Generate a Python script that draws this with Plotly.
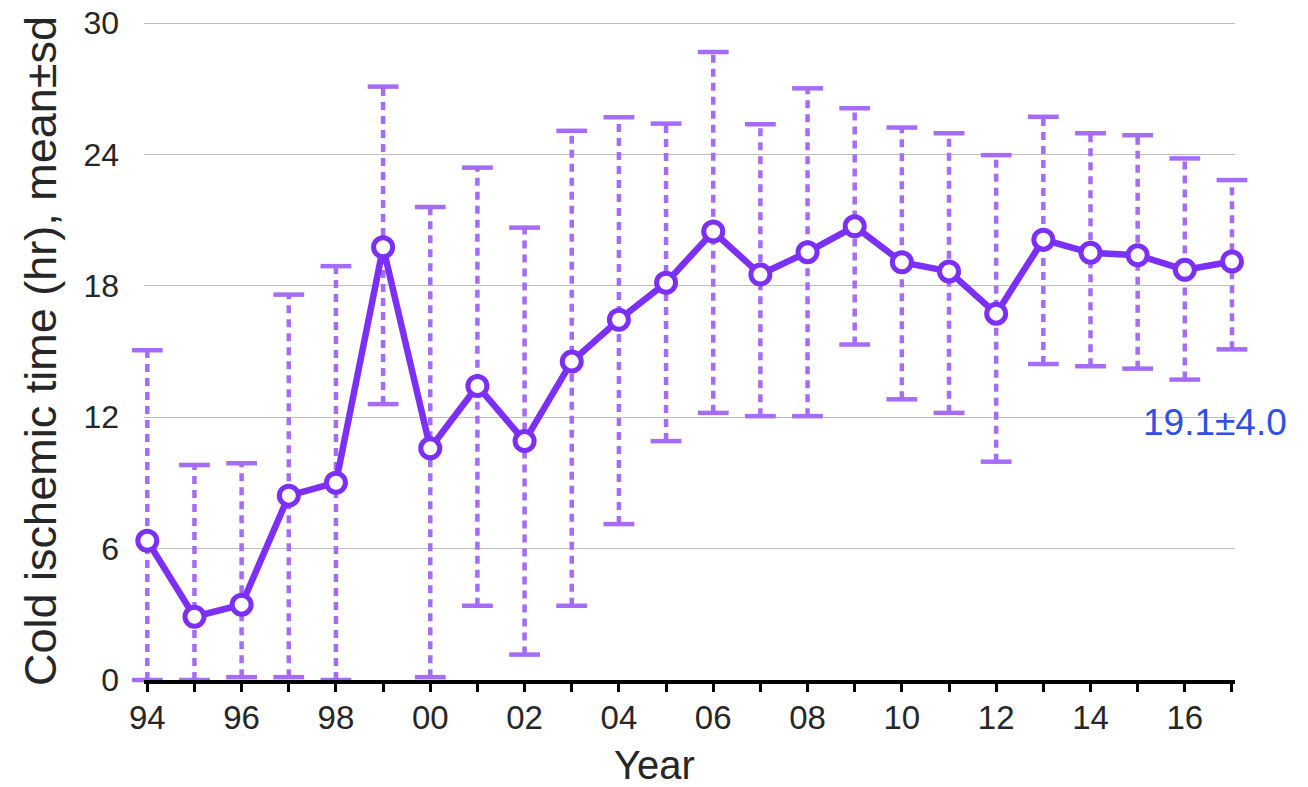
import plotly.graph_objects as go

years = list(range(1994, 2018))
tick_labels = ["94", "", "96", "", "98", "", "00", "", "02", "", "04", "", "06", "", "08", "", "10", "", "12", "", "14", "", "16", ""]
mean = [6.36, 2.89, 3.44, 8.42, 9.01, 19.76, 10.58, 13.43, 10.91, 14.54, 16.45, 18.14,
        20.48, 18.52, 19.54, 20.72, 19.08, 18.66, 16.73, 20.11, 19.51, 19.40, 18.73, 19.11]
upper = [15.06, 9.82, 9.90, 17.60, 18.90, 27.10, 21.60, 23.40, 20.66, 25.08, 25.70, 25.41,
         28.68, 25.38, 27.02, 26.11, 25.23, 24.97, 23.97, 25.72, 24.97, 24.88, 23.82, 22.83]
lower = [0.0, 0.0, 0.13, 0.13, 0.0, 12.60, 0.13, 3.39, 1.16, 3.39, 7.12, 10.91,
         12.20, 12.05, 12.05, 15.32, 12.82, 12.20, 9.97, 14.43, 14.33, 14.22, 13.72, 15.10]
overall_label = "19.1±4.0"

LINE_C = "#7b2ff7"
ERR_C = "#a56cf7"
TXT_C = "#262626"
FONT = "Liberation Sans, Arial, Helvetica"

# dashed error bar stems
ex, ey = [], []
for x, lo, hi in zip(years, lower, upper):
    ex += [x, x, None]
    ey += [lo, hi, None]

fig = go.Figure()
fig.add_trace(go.Scatter(x=ex, y=ey, mode="lines",
                         line=dict(color=ERR_C, width=4.5, dash="8px,6px"),
                         hoverinfo="skip", cliponaxis=False, showlegend=False))
# caps
fig.add_trace(go.Scatter(x=years + years, y=upper + lower, mode="markers",
                         marker=dict(symbol="line-ew", size=22,
                                     line=dict(color=ERR_C, width=4.5)),
                         hoverinfo="skip", cliponaxis=False, showlegend=False))
# mean line
fig.add_trace(go.Scatter(x=years, y=mean, mode="lines+markers",
                         line=dict(color=LINE_C, width=6.5),
                         marker=dict(symbol="circle", size=19, color="white",
                                     line=dict(color=LINE_C, width=5)),
                         cliponaxis=False, showlegend=False))

fig.add_annotation(x=1.0, xref="paper", y=11.75, yref="y", text=overall_label,
                   showarrow=False, xanchor="center", xshift=-20,
                   font=dict(family=FONT, size=37, color="#2f4fe6"))
fig.add_annotation(x=0.468, xref="paper", y=0, yref="paper", yshift=-85,
                   text="Year", showarrow=False, xanchor="center", yanchor="middle",
                   font=dict(family=FONT, size=40, color=TXT_C))

fig.update_layout(
    width=1308, height=787,
    margin=dict(l=144, r=73, t=22, b=107),
    paper_bgcolor="white", plot_bgcolor="white",
    font=dict(family=FONT, color=TXT_C),
    xaxis=dict(
        range=[1993.93, 2017.064], automargin=False,
        tickmode="array", tickvals=years, ticktext=tick_labels,
        ticks="outside", ticklen=8, tickwidth=3, tickcolor="black",
        showline=True, linecolor="black", linewidth=4,
        showgrid=False, zeroline=False,
        ticklabelstandoff=-3,
        tickfont=dict(size=33, color=TXT_C),
    ),
    yaxis=dict(
        range=[0, 30.05], tickvals=[0, 6, 12, 18, 24, 30], automargin=False,
        showgrid=True, gridcolor="#bdbdbd", gridwidth=1,
        showline=False, zeroline=False, ticks="",
        ticklabelstandoff=24,
        tickfont=dict(size=32, color=TXT_C),
        title=dict(text="Cold ischemic time (hr), mean±sd",
                   font=dict(size=45, color=TXT_C), standoff=12),
    ),
)

fig.write_html("out.html")
